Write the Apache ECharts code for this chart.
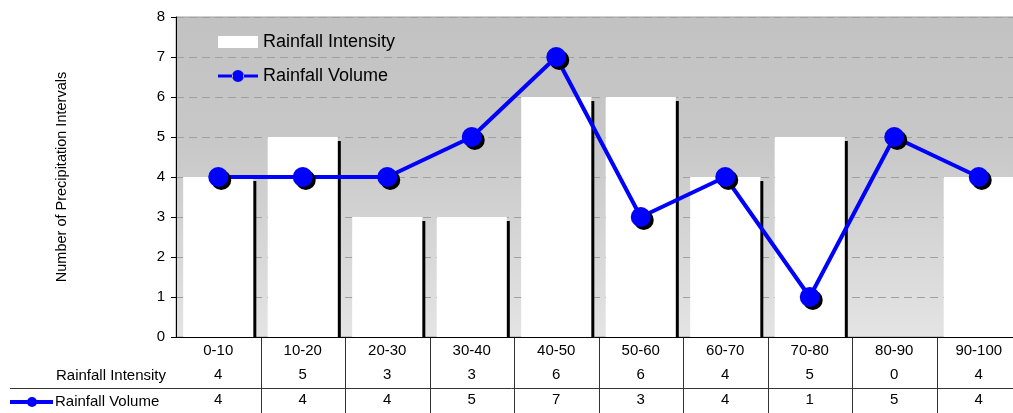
<!DOCTYPE html>
<html>
<head>
<meta charset="utf-8">
<script src="https://cdn.jsdelivr.net/npm/echarts@6/dist/echarts.min.js"></script>
<style>
  html, body { margin: 0; padding: 0; background: #fff; }
  #chart { width: 1013px; height: 413px; }
</style>
</head>
<body>
<div id="chart"></div>
<script>
// Rainfall bins and the number of precipitation intervals in each
const categories = ['0-10', '10-20', '20-30', '30-40', '40-50', '50-60', '60-70', '70-80', '80-90', '90-100'];
const intensity = [4, 5, 3, 3, 6, 6, 4, 5, 0, 4];
const volume = [4, 4, 4, 5, 7, 3, 4, 1, 5, 4];
const yTicks = [0, 1, 2, 3, 4, 5, 6, 7, 8];

const FONT = "'Liberation Sans', Arial, sans-serif";
const BLUE = '#0000ff';
// legend key for the line: thick stroke with a round marker in the middle
const LINE_KEY = 'path://M0,4.5H15V7.5H0Z M25,4.5H40V7.5H25Z M14,6a6,6 0 1,0 12,0a6,6 0 1,0 -12,0Z';

const chart = echarts.init(document.getElementById('chart'), null, { renderer: 'canvas' });

// White columns with a hard black drop shadow on the right
function renderBar(params, api) {
  const v = api.value(1);
  if (!v) return null;
  const top = api.coord([api.value(0), v]);
  const base = api.coord([api.value(0), 0]);
  const w = api.size([1, 0])[0] * 0.83;
  const x = top[0] - w / 2;
  const h = base[1] - top[1];
  return {
    type: 'group',
    children: [
      { type: 'rect', shape: { x: x + 3, y: top[1] + 4, width: w, height: h - 4 }, style: { fill: '#000' } },
      { type: 'rect', shape: { x: x, y: top[1], width: w, height: h }, style: { fill: '#fff' } }
    ]
  };
}

const option = {
  animation: false,
  backgroundColor: '#fff',
  textStyle: { fontFamily: FONT },
  grid: {
    left: 176, top: 17, right: -8, bottom: 76,
    outerBoundsMode: 'none',
    containLabel: false,
    show: true,
    borderColor: '#a0a0a0',
    borderWidth: 1,
    backgroundColor: new echarts.graphic.LinearGradient(0, 0, 0, 1, [
      { offset: 0, color: '#c2c2c2' },
      { offset: 0.4, color: '#c8c8c8' },
      { offset: 1, color: '#e4e4e4' }
    ])
  },
  legend: {
    orient: 'vertical',
    left: 213, top: 28,
    itemWidth: 40, itemHeight: 12, itemGap: 16,
    textStyle: { fontFamily: FONT, fontSize: 18, color: '#000' },
    itemStyle: { shadowColor: 'rgba(0,0,0,0)', shadowOffsetX: 0, shadowOffsetY: 0 },
    data: [
      { name: 'Rainfall Intensity', icon: 'rect' },
      { name: 'Rainfall Volume', icon: LINE_KEY }
    ]
  },
  xAxis: {
    type: 'category',
    data: categories,
    axisLine: { lineStyle: { color: '#000', width: 1 } },
    axisTick: { show: false },
    axisLabel: {
      interval: 0,
      margin: 2,
      hideOverlap: false,
      formatter: (val, i) => `{a|${val}}\n{b|${intensity[i]}}\n{c|${volume[i]}}`,
      rich: {
        a: { fontFamily: FONT, fontSize: 15, color: '#000', lineHeight: 24 },
        b: { fontFamily: FONT, fontSize: 15, color: '#000', lineHeight: 24 },
        c: { fontFamily: FONT, fontSize: 15, color: '#000', lineHeight: 26 }
      }
    }
  },
  yAxis: {
    type: 'value',
    min: 0, max: 8, interval: 1,
    name: 'Number of Precipitation Intervals',
    nameLocation: 'middle',
    nameGap: 107,
    nameTextStyle: { fontFamily: FONT, fontSize: 14.5, color: '#000' },
    axisLine: { show: true, lineStyle: { color: '#000', width: 1 } },
    axisTick: { show: true, inside: false, length: 5, lineStyle: { color: '#000' } },
    axisLabel: {
      margin: 11,
      fontFamily: FONT, fontSize: 15, color: '#000',
      formatter: (v) => (yTicks.includes(v) ? String(v) : '')
    },
    splitLine: {
      show: true,
      lineStyle: { color: '#a0a0a0', type: [8, 5], width: 1 }
    }
  },
  series: [
    {
      name: 'Rainfall Intensity',
      type: 'custom',
      renderItem: renderBar,
      itemStyle: { color: '#fff' },
      encode: { x: 0, y: 1 },
      data: intensity.map((v, i) => [i, v]),
      z: 2
    },
    {
      name: 'Rainfall Volume',
      type: 'line',
      data: volume,
      symbol: 'circle',
      symbolSize: 20,
      lineStyle: { color: BLUE, width: 4 },
      itemStyle: { color: BLUE, shadowColor: '#000', shadowOffsetX: 3, shadowOffsetY: 3, shadowBlur: 0 },
      z: 3
    }
  ]
};

chart.setOption(option);

// Data table rules and row headers, placed from the category axis scale
const halfStep = (chart.convertToPixel({ xAxisIndex: 0 }, 1) - chart.convertToPixel({ xAxisIndex: 0 }, 0)) / 2;
const axisY = chart.convertToPixel({ yAxisIndex: 0 }, 0);
const tableBottom = 413;
const elements = [];
for (let i = 0; i < categories.length - 1; i++) {
  const x = Math.round(chart.convertToPixel({ xAxisIndex: 0 }, i) + halfStep) + 0.5;
  elements.push({
    type: 'line', silent: true,
    shape: { x1: x, y1: axisY, x2: x, y2: tableBottom },
    style: { stroke: '#333', lineWidth: 1 }
  });
}
elements.push({
  type: 'line', silent: true,
  shape: { x1: 10, y1: 388.5, x2: 1013, y2: 388.5 },
  style: { stroke: '#333', lineWidth: 1 }
});
elements.push({
  type: 'text', silent: true,
  style: { x: 111, y: 376, text: 'Rainfall Intensity', font: `15px ${FONT}`, fill: '#000', align: 'center', verticalAlign: 'middle' }
});
elements.push({
  type: 'line', silent: true,
  shape: { x1: 10, y1: 402, x2: 53, y2: 402 },
  style: { stroke: BLUE, lineWidth: 4 }
});
elements.push({
  type: 'circle', silent: true,
  shape: { cx: 32, cy: 402, r: 5 },
  style: { fill: BLUE }
});
elements.push({
  type: 'text', silent: true,
  style: { x: 55, y: 402, text: 'Rainfall Volume', font: `15px ${FONT}`, fill: '#000', align: 'left', verticalAlign: 'middle' }
});
chart.setOption({ graphic: { elements } });
</script>
</body>
</html>
